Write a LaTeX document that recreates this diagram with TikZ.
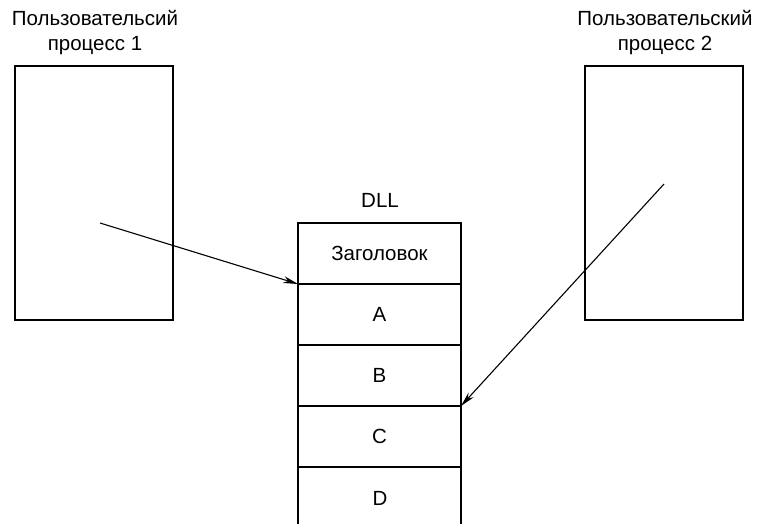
\documentclass[tikz,border=0pt]{standalone}
\usepackage{fontspec}
\setmainfont{Liberation Sans}
\usetikzlibrary{arrows.meta}
\begin{document}
\begin{tikzpicture}[x=1pt,y=-1pt,
  line width=1.4pt,
  proc/.style={draw,minimum width=158pt,minimum height=254pt,inner sep=0pt,outer sep=0pt,anchor=north west},
  cell/.style={draw,minimum width=163pt,minimum height=61pt,inner sep=0pt,outer sep=0pt,anchor=north west,font=\fontsize{20.5}{24}\selectfont},
  lbl/.style={align=center,font=\fontsize{20.5}{25}\selectfont,inner sep=0pt},
  ptr/.style={line width=1.1pt,-{Stealth[length=15pt,width=7pt]}}]
\useasboundingbox (0,0) rectangle (758,524);
\node[proc] (p1) at (15,66) {};
\node[proc] (p2) at (585,66) {};
\node[lbl] (l1) at (95,33) {Пользовательсий\\процесс 1};
\node[lbl] (l2) at (665,33) {Пользовательский\\процесс 2};
\node[lbl] (dll) at (380,200) {DLL};
\node[cell] (hdr) at (298,223) {Заголовок};
\node[cell] (A) at (298,284) {A};
\node[cell] (B) at (298,345) {B};
\node[cell] (C) at (298,406) {C};
\node[font=\fontsize{20.5}{24}\selectfont,inner sep=0pt] (D) at (380,498) {D};
\coordinate (dl) at (298,524);
\coordinate (dr) at (461,524);
\draw (C.south west) -- (C.south west |- dl);
\draw (C.south east) -- (C.south east |- dr);
\coordinate (s1) at (100,223);
\coordinate (s2) at (664,184);
\draw[ptr] (s1) -- (hdr.south west);
\draw[ptr] (s2) -- (B.south east);
\end{tikzpicture}
\end{document}
